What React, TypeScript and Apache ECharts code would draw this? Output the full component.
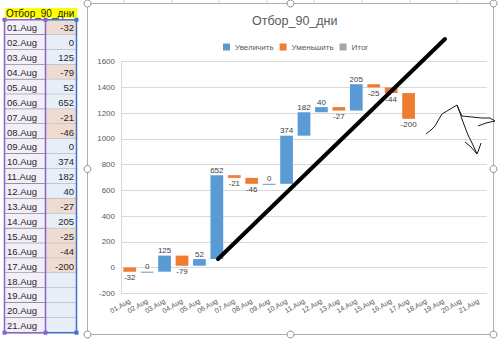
import React, { useEffect, useRef } from 'react';
import * as echarts from 'echarts';

const FONT = '"Liberation Sans", Arial, sans-serif';

const chartTitle = 'Отбор_90_дни';
const categories = [
  '01.Aug', '02.Aug', '03.Aug', '04.Aug', '05.Aug', '06.Aug', '07.Aug',
  '08.Aug', '09.Aug', '10.Aug', '11.Aug', '12.Aug', '13.Aug', '14.Aug',
  '15.Aug', '16.Aug', '17.Aug', '18.Aug', '19.Aug', '20.Aug', '21.Aug',
];
const deltas: (number | null)[] = [
  -32, 0, 125, -79, 52, 652, -21, -46, 0, 374, 182, 40, -27, 205, -25, -44, -200,
  null, null, null, null,
];
const seriesNames = ['Увеличить', 'Уменьшить', 'Итог'];
const seriesColors = ['#5b9bd5', '#ed7d31', '#a5a5a5'];
const yMin = -200;
const yMax = 1600;
const yStep = 200;

function buildSteps() {
  const inc: number[][] = [];
  const dec: number[][] = [];
  let run = 0;
  deltas.forEach((d, i) => {
    if (d === null) return;
    const s = run;
    const e = run + d;
    run = e;
    (d >= 0 ? inc : dec).push([i, s, e, d]);
  });
  return { inc, dec };
}

const makeRender = (color: string) => (_params: any, api: any) => {
  const i = api.value(0);
  const s = api.value(1);
  const e = api.value(2);
  const d = api.value(3);
  const a = api.coord([i, s]);
  const b = api.coord([i, e]);
  const w = api.size([1, 0])[0] * 0.73;
  const top = Math.min(a[1], b[1]);
  const h = Math.max(Math.abs(a[1] - b[1]), 1);
  return {
    type: 'group',
    children: [
      { type: 'rect', shape: { x: a[0] - w / 2, y: top, width: w, height: h }, style: { fill: color } },
      {
        type: 'text',
        style: {
          x: a[0],
          y: d >= 0 ? top - 1 : top + h + 2,
          text: String(d),
          align: 'center',
          verticalAlign: d >= 0 ? 'bottom' : 'top',
          fill: '#404040',
          fontSize: 8,
          fontFamily: FONT,
        },
      },
    ],
  };
};

function buildTable(): any[] {
  const els: any[] = [];
  const rowH = 14.9;
  const top0 = 19.8;
  const xL = 4.5;
  const xM = 45.5;
  const xR = 76.5;
  els.push({ type: 'rect', shape: { x: 5, y: 8, width: 72, height: 10 }, style: { fill: '#ffff00' } });
  els.push({
    type: 'text', style: { x: 6, y: 13, text: chartTitle, fill: '#1a1a1a', fontSize: 10, fontFamily: FONT, verticalAlign: 'middle' },
  });
  categories.forEach((c, i) => {
    const y = top0 + rowH * i;
    const v = deltas[i];
    els.push({ type: 'rect', shape: { x: xL, y, width: xM - xL, height: rowH }, style: { fill: '#f3eff8' } });
    els.push({
      type: 'rect', shape: { x: xM, y, width: xR - xM, height: rowH },
      style: { fill: v !== null && v < 0 ? '#eedcd3' : '#e7eef8' },
    });
    els.push({ type: 'line', shape: { x1: xL, y1: y + rowH, x2: xM, y2: y + rowH }, style: { stroke: '#555555', lineWidth: 1 } });
    els.push({ type: 'line', shape: { x1: xM, y1: y + rowH, x2: xR, y2: y + rowH }, style: { stroke: '#a8a8b0', lineWidth: 1 } });
    els.push({
      type: 'text', style: { x: 7, y: y + rowH / 2 + 0.5, text: c, fill: '#262626', fontSize: 9.5, fontFamily: FONT, verticalAlign: 'middle' },
    });
    if (v !== null) {
      els.push({
        type: 'text',
        style: { x: 74, y: y + rowH / 2 + 0.5, text: String(v), fill: '#262626', fontSize: 9.5, fontFamily: FONT, align: 'right', verticalAlign: 'middle' },
      });
    }
  });
  const yB = top0 + rowH * categories.length;
  const purple = '#8466c4';
  const blue = '#3f6fd0';
  [[xL, top0, xL, yB, purple], [xM, top0, xM, yB, purple], [xR, top0, xR, yB, blue],
   [xL, top0, xM, top0, purple], [xM, top0, xR, top0, blue],
   [xL, yB, xM, yB, purple], [xM, yB, xR, yB, blue]].forEach((l: any) => {
    els.push({ type: 'line', z: 5, shape: { x1: l[0], y1: l[1], x2: l[2], y2: l[3] }, style: { stroke: l[4], lineWidth: 1.5 } });
  });
  [[xL, top0, purple], [xM, top0, purple], [xR, top0, blue], [xL, yB, purple], [xM, yB, purple], [xR, yB, blue]].forEach((p: any) => {
    els.push({ type: 'rect', z: 6, shape: { x: p[0] - 2, y: p[1] - 2, width: 4, height: 4 }, style: { fill: p[2] } });
  });
  return els;
}

function buildDecor(): any[] {
  const els: any[] = [];
  [124, 172, 219, 267, 314, 362, 410, 457].forEach((x) => {
    els.push({ type: 'line', shape: { x1: x, y1: 0, x2: x, y2: 3 }, style: { stroke: '#d4d4d4', lineWidth: 1 } });
  });
  els.push({ type: 'rect', shape: { x: 87.5, y: 3.5, width: 406, height: 331 }, style: { fill: 'none', stroke: '#b0b0b0', lineWidth: 1 } });
  [[87.5, 3.5], [290.5, 3.5], [493.5, 3.5], [87.5, 169], [493.5, 169], [87.5, 334.5], [290.5, 334.5], [493.5, 334.5]].forEach((p) => {
    els.push({ type: 'circle', z: 20, shape: { cx: p[0], cy: p[1], r: 3.5 }, style: { fill: '#ffffff', stroke: '#8c8c8c', lineWidth: 1 } });
  });
  // hand-drawn annotations
  els.push({ type: 'line', z: 50, shape: { x1: 218, y1: 259, x2: 445, y2: 39 }, style: { stroke: '#000000', lineWidth: 4, lineCap: 'round' } });
  const ink = { stroke: '#1a1a1a', lineWidth: 1, fill: 'none' };
  const strokes = [
    [[426, 134], [431, 130], [435, 126], [439, 119], [442, 114], [447, 111], [452, 108], [457, 105], [460, 112], [462, 116]],
    [[462, 116], [472, 117], [482, 118], [490, 118], [495, 121]],
    [[478, 126], [486, 123], [495, 121]],
    [[457, 105], [460, 113], [463, 122], [468, 135], [473, 145], [477, 154]],
    [[465, 142], [471, 147], [477, 154]],
    [[481, 143], [479, 149], [477, 154]],
  ];
  strokes.forEach((pts) => {
    els.push({ type: 'polyline', z: 50, shape: { points: pts }, style: ink });
  });
  return els;
}

export default function App() {
  const ref = useRef<HTMLDivElement>(null);
  useEffect(() => {
    if (!ref.current) return;
    const chart = echarts.init(ref.current, undefined, { renderer: 'svg' });
    const { inc, dec } = buildSteps();
    chart.setOption({
      animation: false,
      backgroundColor: '#ffffff',
      title: {
        text: chartTitle,
        left: 247,
        top: 9,
        textStyle: { fontSize: 12.5, fontWeight: 'normal', color: '#595959', fontFamily: FONT },
      },
      legend: {
        data: seriesNames,
        left: 218,
        top: 38,
        icon: 'rect',
        itemWidth: 7,
        itemHeight: 7,
        itemGap: 6,
        textStyle: { fontSize: 8, color: '#595959', fontFamily: FONT },
        selectedMode: false,
      },
      grid: { left: 121, right: 13, top: 61.7, bottom: 45.7, containLabel: false },
      xAxis: {
        type: 'category',
        data: categories,
        axisLine: { show: false, onZero: false },
        axisTick: { show: false },
        axisLabel: { interval: 0, rotate: 30, margin: 7, fontSize: 7, color: '#595959', fontFamily: FONT },
      },
      yAxis: {
        type: 'value',
        min: yMin,
        max: yMax,
        interval: yStep,
        axisLine: { show: true, lineStyle: { color: '#d9d9d9' } },
        axisTick: { show: false },
        splitLine: { lineStyle: { color: '#d9d9d9' } },
        axisLabel: { fontSize: 8, color: '#595959', margin: 6, fontFamily: FONT, formatter: (v: number) => String(v) },
      },
      series: [
        { name: seriesNames[0], type: 'custom', data: inc, encode: { x: 0, y: [1, 2] }, itemStyle: { color: seriesColors[0] }, renderItem: makeRender(seriesColors[0]) },
        { name: seriesNames[1], type: 'custom', data: dec, encode: { x: 0, y: [1, 2] }, itemStyle: { color: seriesColors[1] }, renderItem: makeRender(seriesColors[1]) },
        { name: seriesNames[2], type: 'custom', data: [], itemStyle: { color: seriesColors[2] }, renderItem: makeRender(seriesColors[2]) },
      ],
      graphic: [...buildTable(), ...buildDecor()],
    });
    return () => chart.dispose();
  }, []);
  return <div ref={ref} style={{ position: 'fixed', left: 0, top: 0, width: 500, height: 339 }} />;
}
